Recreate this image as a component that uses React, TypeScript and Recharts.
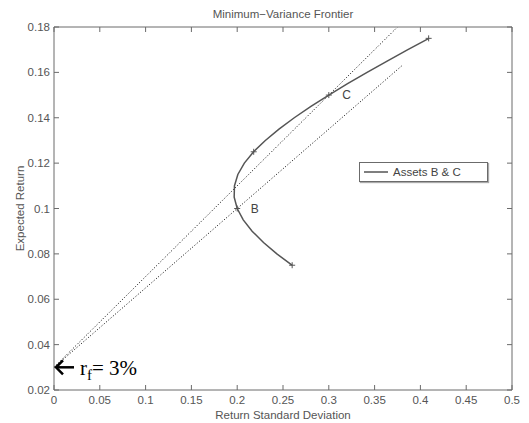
import React from 'react';
import {
  ComposedChart,
  Line,
  Scatter,
  XAxis,
  YAxis,
  Legend,
  ReferenceDot,
  LabelList,
} from 'recharts';

// frontier of assets B & C
const FRONTIER_SD = [
  0.2598, 0.2433, 0.2287, 0.2163, 0.2066, 0.2, 0.1967, 0.197, 0.2007, 0.2078, 0.2179,
  0.2307, 0.2456, 0.2623, 0.2805, 0.3, 0.3205, 0.3418, 0.3637, 0.3863, 0.4093,
];
const FRONTIER_RET = [
  0.075, 0.08, 0.085, 0.09, 0.095, 0.1, 0.105, 0.11, 0.115, 0.12, 0.125,
  0.13, 0.135, 0.14, 0.145, 0.15, 0.155, 0.16, 0.165, 0.17, 0.175,
];

// '+' markers and their names
const MARK_SD = [0.26, 0.2, 0.218, 0.3, 0.409];
const MARK_RET = [0.075, 0.1, 0.125, 0.15, 0.175];
const MARK_NAMES = ['', 'B', '', 'C', ''];

// dotted lines from the risk-free rate
const RF = 0.03;
const LINE_C_SD = [0, 0.375];
const LINE_C_RET = [0.03, 0.18];
const LINE_B_SD = [0, 0.38];
const LINE_B_RET = [0.03, 0.163];

const X_TICKS = [0, 0.05, 0.1, 0.15, 0.2, 0.25, 0.3, 0.35, 0.4, 0.45, 0.5];
const Y_TICKS = [0.02, 0.04, 0.06, 0.08, 0.1, 0.12, 0.14, 0.16, 0.18];

const SANS = '"Liberation Sans", Arial, sans-serif';
const SERIF = '"Liberation Serif", "Times New Roman", serif';
const FRAME = '#6b6b6b';
const TEXT = '#555';
const CURVE = '#555';

const toPts = (xs: number[], ys: number[]) => xs.map((x, i) => ({ x, y: ys[i] }));

const frontier = toPts(FRONTIER_SD, FRONTIER_RET);
const marks = MARK_SD.map((x, i) => ({ x, y: MARK_RET[i], name: MARK_NAMES[i] }));
const lineC = toPts(LINE_C_SD, LINE_C_RET);
const lineB = toPts(LINE_B_SD, LINE_B_RET);

const tickStyle = { fontSize: 11.5, fill: TEXT, fontFamily: SANS };

const Plus = (p: any) => (
  <path
    d={`M${p.cx - 3},${p.cy}h6M${p.cx},${p.cy - 3}v6`}
    stroke={CURVE}
    strokeWidth={1}
    fill="none"
  />
);

const RfNote = (p: any) => {
  const { cx, cy } = p;
  return (
    <g>
      <path d={`M${cx + 2},${cy}H${cx + 20}`} stroke="#000" strokeWidth={2.5} />
      <path
        d={`M${cx + 9},${cy - 7}L${cx + 2},${cy}L${cx + 9},${cy + 7}`}
        stroke="#000"
        strokeWidth={2.5}
        fill="none"
      />
      <text x={cx + 26} y={cy + 8} fontFamily={SERIF} fontSize={21} fill="#000">
        r
        <tspan fontSize={15} dy={5}>f</tspan>
        <tspan dy={-5}>= 3%</tspan>
      </text>
    </g>
  );
};

const LegendBox = () => (
  <div
    style={{
      boxSizing: 'border-box',
      width: 129,
      height: 20,
      border: `1px solid ${FRAME}`,
      background: '#fff',
      boxShadow: '1px 1px 1px #aaa',
      display: 'flex',
      alignItems: 'center',
      fontFamily: SANS,
      fontSize: 11.5,
      color: '#444',
    }}
  >
    <svg width={30} height={10} style={{ marginLeft: 3 }}>
      <line x1={1} y1={5} x2={25} y2={5} stroke={CURVE} strokeWidth={1.5} />
    </svg>
    <span>Assets B &amp; C</span>
  </div>
);

export default function App() {
  return (
    <div style={{ position: 'absolute', left: 0, top: 0, background: '#fff' }}>
      <ComposedChart width={529} height={423} margin={{ top: 26, right: 16, bottom: 0, left: 14 }}>
        <XAxis
          dataKey="x"
          type="number"
          domain={[0, 0.5]}
          ticks={X_TICKS}
          height={33}
          tick={tickStyle}
          tickSize={-5}
          tickMargin={11}
          stroke={FRAME}
          allowDataOverflow
          label={{
            value: 'Return Standard Deviation',
            position: 'insideBottom',
            offset: 4,
            fill: TEXT,
            fontSize: 11.5,
            fontFamily: SANS,
          }}
        />
        <XAxis
          xAxisId="top"
          dataKey="x"
          orientation="top"
          type="number"
          domain={[0, 0.5]}
          ticks={X_TICKS}
          height={1}
          tickSize={-5}
          tickFormatter={() => ''}
          stroke={FRAME}
          allowDataOverflow
          label={{
            value: 'Minimum\u2212Variance Frontier',
            position: 'top',
            offset: 8,
            fill: TEXT,
            fontSize: 11.5,
            fontFamily: SANS,
          }}
        />
        <YAxis
          type="number"
          domain={[0.02, 0.18]}
          ticks={Y_TICKS}
          width={40}
          tick={tickStyle}
          tickSize={-5}
          tickMargin={9}
          stroke={FRAME}
          allowDataOverflow
          label={{
            value: 'Expected Return',
            angle: -90,
            position: 'insideLeft',
            offset: 6,
            fill: TEXT,
            fontSize: 11.5,
            fontFamily: SANS,
            style: { textAnchor: 'middle' },
          }}
        />
        <YAxis
          yAxisId="right"
          orientation="right"
          type="number"
          domain={[0.02, 0.18]}
          ticks={Y_TICKS}
          width={1}
          tickSize={-5}
          tickFormatter={() => ''}
          stroke={FRAME}
          allowDataOverflow
        />
        <Legend
          layout="horizontal"
          verticalAlign="middle"
          align="center"
          wrapperStyle={{ left: 359, top: 162, width: 129 }}
          content={() => <LegendBox />}
        />
        {/* invisible copy tied to the top/right axes so the box frame is drawn */}
        <Line
          data={lineC}
          dataKey="y"
          xAxisId="top"
          yAxisId="right"
          stroke="none"
          dot={false}
          legendType="none"
          isAnimationActive={false}
        />
        <Line
          data={lineC}
          dataKey="y"
          stroke="#000"
          strokeWidth={1}
          strokeDasharray="1 2"
          dot={false}
          legendType="none"
          isAnimationActive={false}
        />
        <Line
          data={lineB}
          dataKey="y"
          stroke="#000"
          strokeWidth={1}
          strokeDasharray="1 2"
          dot={false}
          legendType="none"
          isAnimationActive={false}
        />
        <Line
          data={frontier}
          dataKey="y"
          type="linear"
          stroke={CURVE}
          strokeWidth={1.5}
          dot={false}
          name="Assets B & C"
          isAnimationActive={false}
        />
        <Scatter data={marks} dataKey="y" shape={Plus} isAnimationActive={false} legendType="none">
          <LabelList
            dataKey="name"
            position="right"
            offset={9}
            fill="#444"
            fontSize={12}
            fontFamily={SANS}
          />
        </Scatter>
        <ReferenceDot x={0} y={RF} r={0} ifOverflow="visible" shape={RfNote} />
      </ComposedChart>
    </div>
  );
}
